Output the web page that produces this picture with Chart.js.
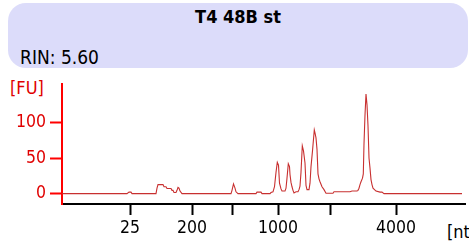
<!DOCTYPE html>
<html>
<head>
<meta charset="utf-8">
<script src="https://cdn.jsdelivr.net/npm/chart.js@4.4.1/dist/chart.umd.min.js"></script>
<style>
html, body { margin: 0; padding: 0; width: 469px; height: 245px; overflow: hidden; background: #fff; }
body { position: relative; font-family: 'DejaVu Sans Condensed', 'DejaVu Sans', sans-serif; }
#head { position: absolute; left: 8px; top: 3px; width: 460px; height: 65px; border-radius: 18px; background: #dcdcfa; }
.txt { position: absolute; line-height: 20px; white-space: nowrap; }
#title { left: 8px; width: 460px; top: 7px; text-align: center; font-weight: bold; font-size: 18px; color: #000; }
#rin { left: 20px; top: 47px; font-size: 19px; color: #000; }
#fu { left: 10px; top: 78px; font-size: 18px; color: #e00000; }
#nt { left: 447px; top: 222px; font-size: 18px; color: #000; }
#graf { position: absolute; left: 0; top: 0; z-index: 2; }
</style>
</head>
<body>
<div id="head"></div>
<div class="txt" id="title">T4 48B st</div>
<div class="txt" id="rin">RIN: 5.60</div>
<div class="txt" id="fu">[FU]</div>
<div class="txt" id="nt">[nt]</div>
<canvas id="graf" width="469" height="245"></canvas>
<script>
// posição no eixo (unidades de migração) e fluorescência [FU]
const tracePos = [0, 65, 67, 69, 70, 94, 95, 96, 101, 102, 104, 105, 109, 110, 111, 112, 114, 115, 116, 117, 118, 120,
    169, 170, 171.5, 173, 174, 176, 194, 195, 199, 200, 208, 209, 211, 212.5, 214, 215.3, 216.5, 217.5, 219, 220,
    223, 224, 225, 226.3, 227.5, 228, 229, 230, 231, 232, 234, 236, 237, 238, 239, 240.3, 241.5, 243, 244, 245,
    247, 248, 249, 250.5, 252.3, 253, 254, 255, 256, 257, 258, 260, 262, 264, 271, 272, 288, 290, 295, 296, 297,
    298, 299, 300.5, 301.3, 302, 303, 304, 305, 306, 307, 308, 309, 310, 311, 314, 318, 320, 322, 400];
const traceFU = [0.5, 0.5, 2.5, 2.5, 0.5, 0.5, 8, 13, 13, 10, 10, 7.5, 7.5, 5, 5, 2, 2, 5, 9, 8, 4, 0.5,
    0.5, 5, 14, 8, 3, 0.5, 0.5, 2.5, 2.5, 0.5, 0.5, 2, 3, 10, 30, 44, 40, 15, 7, 4,
    4, 8, 22, 42, 38, 27, 16, 10, 5, 1.5, 3, 3, 6, 11, 30, 67, 60, 43, 12, 6,
    6, 15, 38, 60, 89, 85, 78, 62, 28, 21, 17, 10, 6, 1, 1, 3, 3, 4, 4, 5, 8,
    13, 17, 22, 28, 70, 110, 139, 124, 95, 50, 36, 20, 13, 8, 4, 2.5, 2.5, 0.5, 0.5];

// marcas do eixo x (tamanho em nt)
const xTickPos = [68, 130, 170, 216, 268, 334];
const xTickLabels = ['25', '200', '', '1000', '', '4000'];
const yTicks = [0, 50, 100];

const fonte = { family: "'DejaVu Sans Condensed', 'DejaVu Sans', sans-serif", size: 17.5 };

const ctx = document.getElementById('graf').getContext('2d');

const chartConfig = {
    type: 'line',
    data: {
        datasets: [{
            data: tracePos.map((x, i) => ({ x: x, y: traceFU[i] })),
            borderColor: '#c83030',
            borderWidth: 1.1,
            pointRadius: 0,
            tension: 0,
            fill: false
        }]
    },
    options: {
        responsive: false,
        animation: false,
        layout: { padding: { left: 0, right: 4, top: 84, bottom: 0 } },
        plugins: {
            legend: { display: false },
            tooltip: { enabled: false }
        },
        scales: {
            x: {
                type: 'linear',
                min: 0,
                max: 403,
                afterFit: s => { s.height = 41; },
                afterBuildTicks: s => { s.ticks = xTickPos.map(v => ({ value: v })); },
                border: { color: '#000', width: 2 },
                grid: { drawOnChartArea: false, drawTicks: true, tickLength: 11, tickWidth: 2, tickColor: '#000' },
                ticks: {
                    autoSkip: false,
                    maxRotation: 0,
                    padding: 3,
                    color: '#000',
                    font: fonte,
                    callback: (v, i) => xTickLabels[i]
                }
            },
            y: {
                type: 'linear',
                min: -14,
                max: 153,
                afterFit: s => { s.width = 62; },
                afterBuildTicks: s => { s.ticks = yTicks.map(v => ({ value: v })); },
                border: { color: '#ff0000', width: 2 },
                grid: { drawOnChartArea: false, drawTicks: true, tickLength: 12, tickWidth: 2, tickColor: '#ff0000' },
                ticks: {
                    padding: 4,
                    color: '#e00000',
                    font: fonte
                }
            }
        }
    }
};

const meuGrafico = new Chart(ctx, chartConfig);
</script>
</body>
</html>
